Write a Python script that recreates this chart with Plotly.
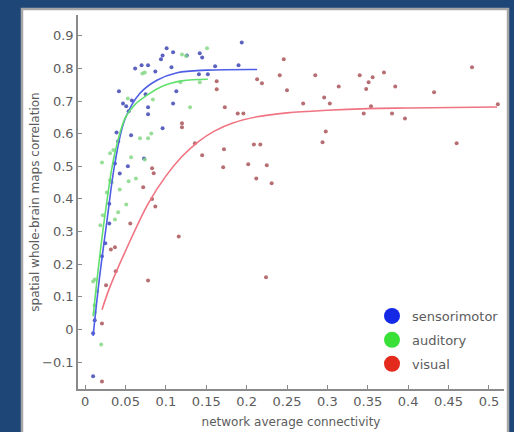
import plotly.graph_objects as go

# ---------------- data ----------------
sm_x = [0.101, 0.096, 0.094, 0.109, 0.126, 0.142, 0.145, 0.062, 0.070, 0.078, 0.087, 0.107,
        0.161, 0.141, 0.152, 0.194, 0.190, 0.042, 0.075, 0.113, 0.109, 0.078, 0.078, 0.047,
        0.051, 0.058, 0.054, 0.096, 0.057, 0.039, 0.041, 0.037, 0.053, 0.073, 0.043, 0.030,
        0.030, 0.025, 0.021, 0.012, 0.010, 0.010]
sm_y = [0.862, 0.840, 0.828, 0.850, 0.840, 0.847, 0.834, 0.800, 0.810, 0.810, 0.791, 0.804,
        0.807, 0.782, 0.782, 0.880, 0.810, 0.730, 0.721, 0.730, 0.693, 0.681, 0.660, 0.693,
        0.684, 0.702, 0.669, 0.617, 0.595, 0.604, 0.577, 0.509, 0.500, 0.524, 0.478, 0.385,
        0.325, 0.264, 0.224, 0.028, -0.012, -0.144]

au_x = [0.151, 0.120, 0.125, 0.074, 0.071, 0.118, 0.142, 0.130, 0.053, 0.084, 0.068, 0.078,
        0.082, 0.035, 0.031, 0.021, 0.057, 0.074, 0.054, 0.063, 0.033, 0.043, 0.031, 0.027,
        0.051, 0.041, 0.022, 0.037, 0.019, 0.012, 0.010, 0.015, 0.012, 0.012, 0.020]
au_y = [0.862, 0.843, 0.838, 0.788, 0.785, 0.758, 0.758, 0.681, 0.708, 0.705, 0.586, 0.586,
        0.601, 0.550, 0.540, 0.512, 0.528, 0.521, 0.454, 0.463, 0.451, 0.429, 0.457, 0.420,
        0.383, 0.359, 0.350, 0.337, 0.319, 0.153, 0.147, 0.117, 0.074, 0.052, -0.046]

vi_x = [0.246, 0.241, 0.285, 0.250, 0.270, 0.296, 0.303, 0.314, 0.340, 0.356, 0.370, 0.351,
        0.348, 0.384, 0.354, 0.345, 0.380, 0.396, 0.432, 0.479, 0.511, 0.460, 0.298, 0.294,
        0.225, 0.231, 0.212, 0.209, 0.217, 0.224, 0.213, 0.219, 0.163, 0.163, 0.173, 0.189,
        0.196, 0.120, 0.120, 0.136, 0.145, 0.172, 0.171, 0.202, 0.116, 0.083, 0.085, 0.072,
        0.083, 0.087, 0.056, 0.032, 0.037, 0.038, 0.078, 0.026, 0.021, 0.021]
vi_y = [0.828, 0.779, 0.779, 0.733, 0.693, 0.711, 0.693, 0.745, 0.779, 0.773, 0.788, 0.758,
        0.737, 0.745, 0.684, 0.662, 0.662, 0.647, 0.727, 0.804, 0.690, 0.571, 0.607, 0.574,
        0.503, 0.448, 0.463, 0.567, 0.567, 0.160, 0.767, 0.755, 0.761, 0.736, 0.681, 0.662,
        0.662, 0.632, 0.620, 0.571, 0.534, 0.552, 0.497, 0.506, 0.285, 0.494, 0.479, 0.436,
        0.400, 0.377, 0.325, 0.245, 0.252, 0.178, 0.150, 0.135, 0.018, -0.160]

# fitted curves
sm_fit_x = [0.010, 0.018, 0.027, 0.037, 0.0495, 0.068, 0.089, 0.114, 0.151, 0.213]
sm_fit_y = [-0.020, 0.160, 0.330, 0.510, 0.645, 0.724, 0.764, 0.787, 0.795, 0.797]
au_fit_x = [0.010, 0.018, 0.026, 0.036, 0.050, 0.062, 0.075, 0.095, 0.120, 0.152]
au_fit_y = [0.040, 0.220, 0.374, 0.530, 0.650, 0.690, 0.715, 0.745, 0.762, 0.767]
vi_fit_x = [0.021, 0.030, 0.050, 0.078, 0.100, 0.120, 0.140, 0.160, 0.183, 0.213, 0.250,
            0.300, 0.350, 0.400, 0.510]
vi_fit_y = [0.060, 0.125, 0.240, 0.385, 0.470, 0.530, 0.575, 0.608, 0.633, 0.652, 0.664,
            0.672, 0.677, 0.679, 0.682]

names = ["sensorimotor", "auditory", "visual"]
x_ticks = [0, 0.05, 0.1, 0.15, 0.2, 0.25, 0.3, 0.35, 0.4, 0.45, 0.5]
x_tick_text = ["0", "0.05", "0.1", "0.15", "0.2", "0.25", "0.3", "0.35", "0.4", "0.45", "0.5"]
y_ticks = [-0.1, 0, 0.1, 0.2, 0.3, 0.4, 0.5, 0.6, 0.7, 0.8, 0.9]
y_tick_text = ["\u22120.1", "0", "0.1", "0.2", "0.3", "0.4", "0.5", "0.6", "0.7", "0.8", "0.9"]

# ---------------- styles ----------------
pt_colors = ["#3e47b4", "#86d886", "#a9555a"]
line_colors = ["#4f5ee6", "#62e06e", "#f07482"]
legend_colors = ["#1428e6", "#38e038", "#e42a1c"]
FONT = "DejaVu Sans, Liberation Sans, Arial, sans-serif"
TXT = "#5c5c5c"

fig = go.Figure()

series = [(sm_x, sm_y, sm_fit_x, sm_fit_y), (au_x, au_y, au_fit_x, au_fit_y),
          (vi_x, vi_y, vi_fit_x, vi_fit_y)]
for i, (px, py, fx, fy) in enumerate(series):
    fig.add_trace(go.Scatter(x=px, y=py, mode="markers", showlegend=False,
                             marker=dict(size=4, color=pt_colors[i], opacity=0.85,
                                         line=dict(width=0))))
for i, (px, py, fx, fy) in enumerate(series):
    fig.add_trace(go.Scatter(x=fx, y=fy, mode="lines", showlegend=False,
                             line=dict(color=line_colors[i], width=1.6, shape="spline")))
for i in range(3):
    fig.add_trace(go.Scatter(x=[None], y=[None], mode="markers", name=names[i],
                             legendgroup=names[i],
                             marker=dict(size=16, color=legend_colors[i])))

W, H = 514, 432
L, R, T, B = 78, 10, 15, 43
pw, ph = W - L - R, H - T - B

def px2paper_x(p):
    return (p - L) / pw

def px2paper_y(p):
    return (H - B - p) / ph

fig.add_shape(type="rect", xref="paper", yref="paper", layer="below",
              x0=px2paper_x(22), x1=px2paper_x(508), y0=px2paper_y(445), y1=px2paper_y(9),
              fillcolor="white", line=dict(color="#a6a6a6", width=2.5))

fig.update_layout(
    width=W, height=H,
    margin=dict(l=L, r=R, t=T, b=B, autoexpand=False),
    paper_bgcolor="#1e4677",
    plot_bgcolor="white",
    font=dict(family=FONT, size=12, color=TXT),
    showlegend=True,
    hovermode=False,
    legend=dict(x=px2paper_x(372), y=px2paper_y(301), xanchor="left", yanchor="top",
                bgcolor="rgba(0,0,0,0)", itemsizing="trace", tracegroupgap=4,
                font=dict(family=FONT, size=13, color=TXT)),
    xaxis=dict(range=[-0.0087, 0.5186], tickvals=x_ticks, ticktext=x_tick_text,
               automargin=False,
               showgrid=False, zeroline=False, showline=True, linecolor="#8a8a8a",
               linewidth=1.5, ticks="inside", ticklen=4, tickcolor="#8a8a8a",
               tickfont=dict(size=13, color=TXT),
               title=dict(text="network average connectivity", standoff=9,
                          font=dict(size=12, color=TXT))),
    yaxis=dict(range=[-0.1828, 0.964], tickvals=y_ticks, ticktext=y_tick_text,
               automargin=False,
               showgrid=False, zeroline=False, showline=True, linecolor="#8a8a8a",
               linewidth=1.5, ticks="inside", ticklen=4, tickcolor="#8a8a8a",
               tickfont=dict(size=13, color=TXT),
               title=dict(text="spatial whole-brain maps correlation", standoff=0,
                          font=dict(size=12, color=TXT))),
)

fig.write_html("out.html", config={"displayModeBar": False},
               post_script="document.body.style.margin='0px';")
